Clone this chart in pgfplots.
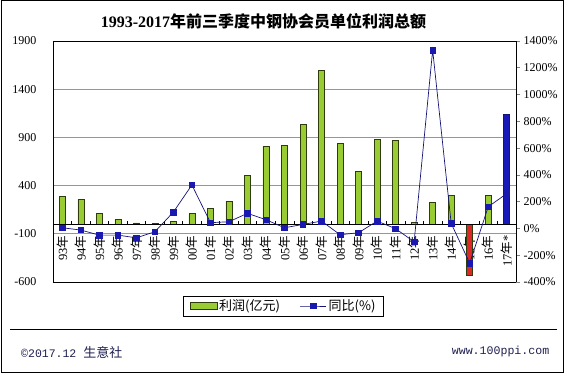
\documentclass[border=0pt]{standalone}
\usepackage{fontspec}
\setmainfont{Liberation Serif}
\newfontfamily\cjk{Noto Sans CJK SC}
\newfontfamily\mono{Liberation Mono}
\usepackage{pgfplots}
\pgfplotsset{compat=1.18}
\definecolor{barg}{RGB}{153,204,51}
\definecolor{bargd}{RGB}{45,60,10}
\definecolor{barr}{RGB}{220,40,40}
\definecolor{barb}{RGB}{25,25,185}
\definecolor{linec}{RGB}{20,20,120}
\definecolor{markc}{RGB}{25,25,175}
\definecolor{gridc}{RGB}{150,150,150}
\definecolor{footc}{RGB}{30,30,80}
\newcommand\nian{{\cjk 年}}
\pgfplotsset{
 mybarleg/.style={legend image code/.code={\draw[##1] (0pt,-3.5pt) rectangle (27pt,3.5pt);}},
 mylineleg/.style={legend image code/.code={\draw[mark repeat=2,mark phase=2,##1] plot coordinates {(0pt,0pt) (13pt,0pt) (26pt,0pt)};}},
}
\begin{document}
\begin{tikzpicture}[x=1pt,y=1pt]
\path[use as bounding box] (0,0) rectangle (568,374);
\draw[line width=0.8pt] (1,2) rectangle (563,373.5);
\draw[line width=0.8pt] (10,45) -- (557,45);
\node[font=\bfseries\fontsize{16}{16}\selectfont] at (263.5,353) {1993-2017{\cjk 年前三季度中钢协会员单位利润总额}};
\node[anchor=west, font=\mono\fontsize{11.5}{12}\selectfont, text=footc, inner sep=0pt] at (21,22) {\textcopyright2017.12 {\cjk\fontsize{13}{13}\selectfont 生意社}};
\node[anchor=east, font=\mono\fontsize{11.6}{12}\selectfont, text=footc, inner sep=0pt] at (549.5,22) {www.100ppi.com};

\begin{axis}[
 at={(53pt,92pt)}, anchor=south west, scale only axis,
 width=463pt, height=241pt,
 xmin=-0.5, xmax=24.5, ymin=-600, ymax=1900,
 ytick={-600,-100,400,900,1400,1900},
 yticklabels={-600,-100,400,900,1400,1900},
 xtick={0,...,24},
 xticklabels={93\nian,94\nian,95\nian,96\nian,97\nian,98\nian,99\nian,00\nian,01\nian,02\nian,03\nian,04\nian,05\nian,06\nian,07\nian,08\nian,09\nian,10\nian,11\nian,12\nian,13\nian,14\nian,15\nian,16\nian,17\nian*},
 xticklabel style={rotate=90, anchor=east, font=\fontsize{12.5}{12.5}\selectfont},
 xticklabel shift=-50pt,
 major tick length=0pt,
 ymajorgrids, grid style={gridc, line width=0.6pt},
 yticklabel style={font=\fontsize{12}{12}\selectfont},
 yticklabel shift=13pt,
 axis line style={line width=0.8pt},
 legend style={at={(0.498,-0.0996)}, anchor=center, legend columns=2,
   draw=black, thin, font=\cjk\fontsize{13}{13}\selectfont,
   /tikz/every even column/.append style={column sep=18pt},
   inner xsep=6pt, inner ysep=2pt},
]
\addplot[ybar, bar width=6pt, bar shift=0pt, fill=barg, draw=bargd, line width=0.5pt, mybarleg]
 coordinates {(0,290) (1,260) (2,114) (3,50) (4,12) (5,8) (6,25) (7,110) (8,165) (9,240)
  (10,505) (11,810) (12,820) (13,1037) (14,1597) (15,840) (16,550) (17,880) (18,870)
  (19,15) (20,225) (21,300) (23,300)};
\addlegendentry{利润(亿元)}
\addplot[ybar, bar width=6pt, bar shift=0pt, fill=barr, draw=bargd, line width=0.5pt, forget plot]
 coordinates {(22,-530)};
\addplot[ybar, bar width=6pt, bar shift=0pt, fill=barb, draw=linec, line width=0.5pt, forget plot]
 coordinates {(24,1140)};
\addlegendimage{linec, line width=0.7pt, mark=square*, mark size=2.8pt, mark options={fill=markc, draw=markc}, mylineleg}
\addlegendentry{同比(\%)}
\draw[black, line width=0.8pt] (axis cs:-0.5,0) -- (axis cs:24.5,0);
\pgfplotsinvokeforeach{-0.5,0.5,...,24.5}{\draw[black, line width=0.5pt] (axis cs:#1,0) -- ++(0pt,3pt);}
\end{axis}

\begin{axis}[
 at={(53pt,92pt)}, anchor=south west, scale only axis,
 width=463pt, height=241pt,
 xmin=-0.5, xmax=24.5, ymin=-400, ymax=1400,
 axis x line=none, axis y line*=right,
 ytick={-400,-200,...,1400},
 yticklabels={-400\%,-200\%,0\%,200\%,400\%,600\%,800\%,1000\%,1200\%,1400\%},
 major tick length=4pt, tick align=outside,
 ytick style={line width=0.6pt},
 yticklabel style={font=\fontsize{12}{12}\selectfont},
 axis line style={line width=0.8pt},
]
\addplot[linec, line width=0.7pt, mark=square*, mark size=2.8pt, mark options={fill=markc, draw=markc}]
 coordinates {(0,5) (1,-12) (2,-50) (3,-50) (4,-70) (5,-25) (6,122) (7,325) (8,43) (9,50)
  (10,113) (11,65) (12,5) (13,30) (14,55) (15,-47) (16,-32) (17,55) (18,-2) (19,-100)
  (20,1332) (21,38) (22,-260) (23,162) (24,260)};
\end{axis}
\end{tikzpicture}
\end{document}
